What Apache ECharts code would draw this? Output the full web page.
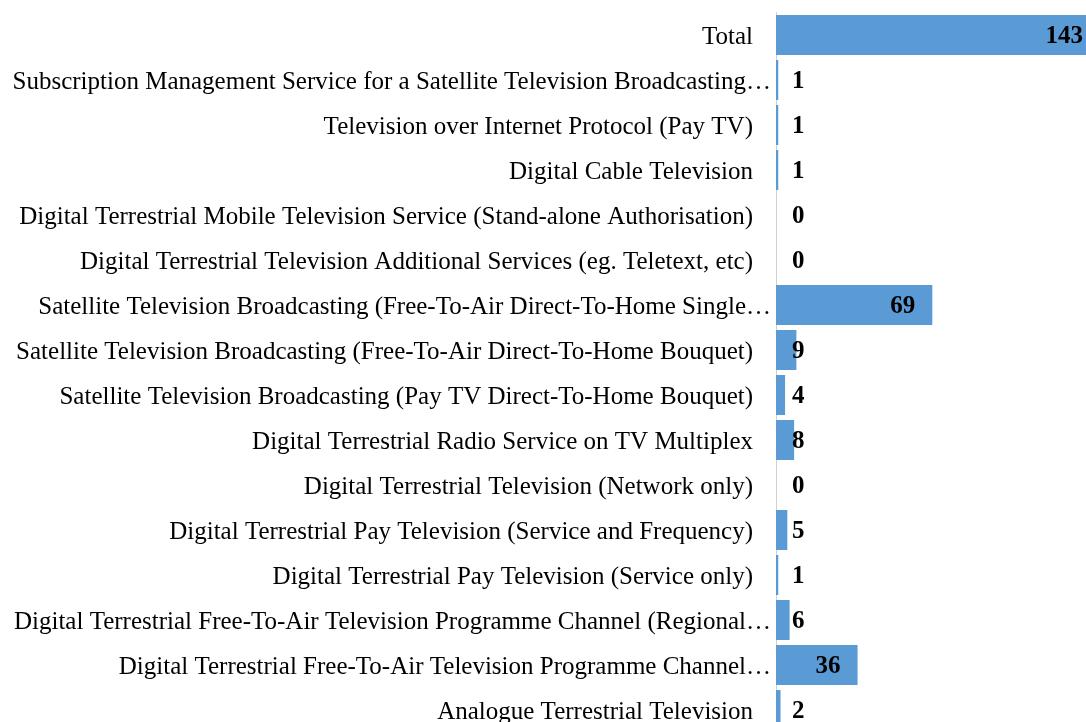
<!DOCTYPE html>
<html lang="en">
<head>
    <meta charset="UTF-8">
    <title>Broadcasting licences</title>
    <script src="https://cdn.jsdelivr.net/npm/echarts@6/dist/echarts.min.js"></script>
    <style>
        html, body { margin: 0; padding: 0; background: #fff; }
        #main { width: 1086px; height: 722px; }
    </style>
</head>
<body>
    <div id="main"></div>
    <script>
        // categories, bottom to top
        var categories = [
            'Analogue Terrestrial Television',
            'Digital Terrestrial Free-To-Air Television Programme Channel…',
            'Digital Terrestrial Free-To-Air Television Programme Channel (Regional…',
            'Digital Terrestrial Pay Television (Service only)',
            'Digital Terrestrial Pay Television (Service and Frequency)',
            'Digital Terrestrial Television (Network only)',
            'Digital Terrestrial Radio Service on TV Multiplex',
            'Satellite Television Broadcasting (Pay TV Direct-To-Home Bouquet)',
            'Satellite Television Broadcasting (Free-To-Air Direct-To-Home Bouquet)',
            'Satellite Television Broadcasting (Free-To-Air Direct-To-Home Single…',
            'Digital Terrestrial Television Additional Services (eg. Teletext, etc)',
            'Digital Terrestrial Mobile Television Service (Stand-alone Authorisation)',
            'Digital Cable Television',
            'Television over Internet Protocol (Pay TV)',
            'Subscription Management Service for a Satellite Television Broadcasting…',
            'Total'
        ];
        var counts = [2, 36, 6, 1, 5, 0, 8, 4, 9, 69, 0, 0, 1, 1, 1, 143];

        var myChart = echarts.init(document.getElementById('main'));

        var font = '"Liberation Serif", serif';

        var barData = counts.map(function (v) {
            var big = v > 20;
            return {
                value: v,
                label: big
                    ? { position: 'insideRight', distance: 17 }
                    : { position: 'insideLeft', distance: 16 }
            };
        });

        var option = {
            animation: false,
            grid: { left: 776, top: 12.5, height: 720, width: 324, outerBoundsMode: 'none' },
            xAxis: {
                type: 'value',
                min: 0,
                max: 143,
                show: false
            },
            yAxis: {
                type: 'category',
                data: categories,
                axisLine: { show: true, lineStyle: { color: '#d0d0d0', width: 1 } },
                axisTick: { show: false },
                axisLabel: {
                    margin: 5,
                    color: '#000',
                    fontFamily: font,
                    fontSize: 25,
                    formatter: function (name) {
                        var cut = name.charAt(name.length - 1) === '…';
                        return cut ? '{c|' + name + '}' : '{n|' + name + '}';
                    },
                    rich: {
                        c: { fontFamily: font, fontSize: 25, color: '#000', padding: [4, 0, 0, 0] },
                        n: { fontFamily: font, fontSize: 25, color: '#000', padding: [4, 18, 0, 0] }
                    }
                }
            },
            series: [{
                type: 'bar',
                data: barData,
                barCategoryGap: '11%',
                itemStyle: { color: '#5b9bd5' },
                label: {
                    show: true,
                    color: '#000',
                    fontFamily: font,
                    fontWeight: 'bold',
                    fontSize: 25,
                    offset: [0, 2]
                }
            }]
        };

        myChart.setOption(option);
    </script>
</body>
</html>
